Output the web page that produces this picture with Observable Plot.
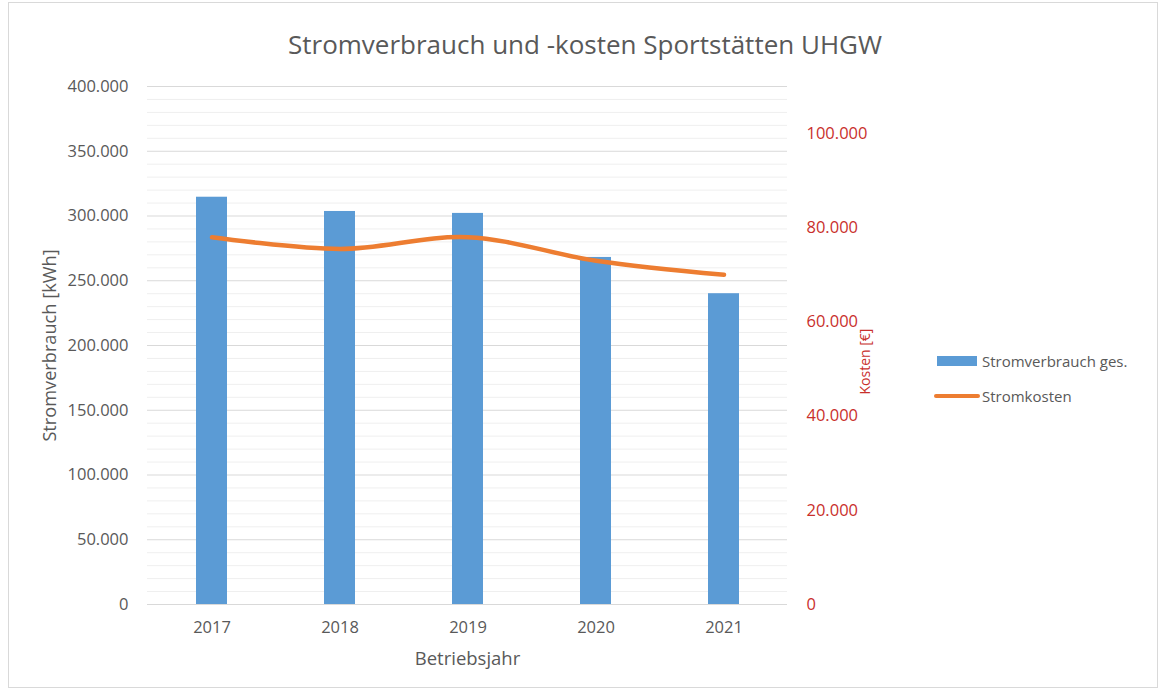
<!DOCTYPE html>
<html>
<head>
<meta charset="utf-8">
<script src="https://cdn.jsdelivr.net/npm/d3@7"></script>
<script src="https://cdn.jsdelivr.net/npm/@observablehq/plot@0.6"></script>
<style>
  html, body { margin: 0; padding: 0; background: #fff; }
  body { width: 1164px; height: 690px; position: relative; overflow: hidden; font-family: "Open Sans", sans-serif; color: #595959; }
  #frame { position: absolute; left: 8px; top: 2px; width: 1148px; height: 684px; border: 1px solid #d9d9d9; }
  #title { position: absolute; left: 0; top: 26px; width: 1170px; text-align: center; font-size: 26px; line-height: 36px; color: #595959; }
  #chart { position: absolute; left: 0; top: 70px; }
  .leg { position: absolute; left: 934px; font-size: 15px; color: #595959; display: flex; align-items: center; }
  .sw-bar { width: 40px; height: 10px; background: #5b9bd5; margin-left: 3px; margin-right: 5px; }
  .sw-line { width: 46px; height: 4px; background: #ed7d31; border-radius: 2px; margin-right: 2px; }
</style>
</head>
<body>
<div id="frame"></div>
<div id="title">Stromverbrauch und -kosten Sportstätten UHGW</div>
<div id="chart"></div>
<div class="leg" style="top:351px"><div class="sw-bar"></div><span>Stromverbrauch ges.</span></div>
<div class="leg" style="top:386px"><div class="sw-line"></div><span>Stromkosten</span></div>
<script>
// ---- data ----
const years = ["2017", "2018", "2019", "2020", "2021"];
const verbrauch = [314500, 303500, 302000, 268000, 240000]; // kWh
const kosten = [78000, 75500, 78000, 73000, 70000];         // €
const leftTicks = [0, 50000, 100000, 150000, 200000, 250000, 300000, 350000, 400000];
const rightTicks = [0, 20000, 40000, 60000, 80000, 100000];
const leftMax = 400000;
const rightMax = 110000;
const xTitle = "Betriebsjahr";
const yTitle = "Stromverbrauch [kWh]";
const y2Title = "Kosten [€]";

const de = d3.formatLocale({decimal: ",", thousands: ".", grouping: [3], currency: ["", " €"]});
const fmt = de.format(",");
const k = leftMax / rightMax; // secondary axis mapping

const bars = years.map((y, i) => ({year: y, value: verbrauch[i]}));
const line = years.map((y, i) => ({year: y, value: kosten[i] * k}));
const minorGrid = d3.range(0, leftMax + 1, 10000).filter(v => !leftTicks.includes(v));
const red = "#c9302c";
const gray = "#595959";

const chart = Plot.plot({
  width: 1164,
  height: 620,
  marginTop: 16,
  marginBottom: 86,
  marginLeft: 147,
  marginRight: 377,
  style: {fontFamily: "'Open Sans', sans-serif", fontSize: "16.5px", color: gray, background: "transparent"},
  x: {type: "band", domain: years, paddingInner: 0.76, paddingOuter: 0.38},
  y: {domain: [0, leftMax]},
  marks: [
    Plot.ruleY(minorGrid, {stroke: "#efefef", strokeWidth: 1}),
    Plot.ruleY(leftTicks, {stroke: "#d9d9d9", strokeWidth: 1}),
    Plot.barY(bars, {x: "year", y: "value", fill: "#5b9bd5"}),
    Plot.line(line, {x: "year", y: "value", stroke: "#ed7d31", strokeWidth: 4.5, curve: "catmull-rom", strokeLinecap: "round"}),
    Plot.axisX({tickSize: 0, tickPadding: 17, fontSize: "16.5px", label: null}),
    Plot.axisY({anchor: "left", ticks: leftTicks, tickSize: 0, tickPadding: 19, tickFormat: fmt, fontSize: "16.5px", label: null}),
    Plot.axisY({anchor: "right", ticks: rightTicks.map(v => v * k), tickSize: 0, tickPadding: 19, fontSize: "16.5px",
      tickFormat: d => fmt(Math.round(d / k)), color: red, label: null}),
    Plot.text([xTitle], {frameAnchor: "bottom", dy: 60, fontSize: 18.5, fill: gray, letterSpacing: "0.3px"}),
    Plot.text([yTitle], {frameAnchor: "left", textAnchor: "middle", dx: -97, rotate: -90, fontSize: 18.2, fill: gray}),
    Plot.text([y2Title], {frameAnchor: "right", textAnchor: "middle", dx: 78, dy: 16, rotate: -90, fontSize: 14, fill: red})
  ]
});
document.getElementById("chart").appendChild(chart);
</script>
</body>
</html>
